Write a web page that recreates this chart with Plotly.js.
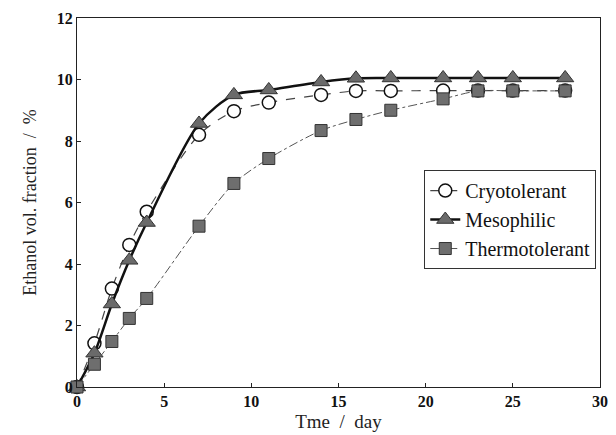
<!DOCTYPE html>
<html>
<head>
<meta charset="utf-8">
<script src="https://cdn.plot.ly/plotly-3.0.1.min.js"></script>
<style>html,body{margin:0;padding:0;background:#fff;}#chart{width:616px;height:435px;}</style>
</head>
<body>
<div id="chart"></div>
<script>
const days = [0, 1, 2, 3, 4, 7, 9, 11, 14, 16, 18, 21, 23, 25, 28];
const cryotolerant = [0, 1.42, 3.2, 4.62, 5.7, 8.2, 8.97, 9.25, 9.5, 9.63, 9.63, 9.64, 9.64, 9.64, 9.64];
const mesophilic = [0, 1.1, 2.7, 4.12, 5.35, 8.57, 9.5, 9.66, 9.92, 10.04, 10.05, 10.05, 10.05, 10.05, 10.05];
const thermotolerant = [0, 0.74, 1.48, 2.23, 2.88, 5.23, 6.62, 7.43, 8.34, 8.7, 9.0, 9.37, 9.63, 9.63, 9.63];
const seriesNames = ["Cryotolerant", "Mesophilic", "Thermotolerant"];
const xTicks = [0, 5, 10, 15, 20, 25, 30];
const yTicks = [0, 2, 4, 6, 8, 10, 12];

const serif = "Liberation Serif";

const traces = [
  {
    x: days, y: cryotolerant, name: seriesNames[0], mode: "lines+markers",
    line: {color: "#444", width: 1.2, dash: "dash", shape: "spline", smoothing: 0.8},
    marker: {symbol: "circle", size: 13, color: "#fff", line: {color: "#111", width: 1.5}},
    cliponaxis: false
  },
  {
    x: days, y: mesophilic, name: seriesNames[1], mode: "lines+markers",
    line: {color: "#111", width: 2.5, shape: "spline", smoothing: 0.8},
    marker: {symbol: "triangle-up", size: 15, color: "#6a6a6a", line: {color: "#333", width: 1}},
    cliponaxis: false
  },
  {
    x: days, y: thermotolerant, name: seriesNames[2], mode: "lines+markers",
    line: {color: "#555", width: 1, dash: "dashdot", shape: "spline", smoothing: 0.8},
    marker: {symbol: "square", size: 12, color: "#6e6e6e", line: {color: "#333", width: 1}},
    cliponaxis: false
  }
];

const layout = {
  width: 616, height: 435,
  margin: {l: 77, r: 16, t: 18, b: 48},
  paper_bgcolor: "#fff", plot_bgcolor: "#fff",
  showlegend: true,
  legend: {
    x: 0.664, y: 0.588, xanchor: "left", yanchor: "top",
    bordercolor: "#333", borderwidth: 1, bgcolor: "#fff",
    font: {family: serif, size: 20, color: "#111"},
    itemwidth: 30, tracegroupgap: 0
  },
  xaxis: {
    range: [0, 30], tickvals: xTicks, ticktext: xTicks.map(String),
    showgrid: false, zeroline: false, showline: true, mirror: true,
    linecolor: "#222", linewidth: 1, ticks: "inside", ticklen: 4, tickcolor: "#222",
    tickfont: {family: serif, size: 16, color: "#111", weight: "bold"},
    title: {text: "Tme  /  day", font: {family: serif, size: 19, color: "#222"}, standoff: 5}
  },
  yaxis: {
    range: [0, 12], tickvals: yTicks, ticktext: yTicks.map(String),
    showgrid: false, zeroline: false, showline: true, mirror: true,
    linecolor: "#222", linewidth: 1, ticks: "inside", ticklen: 4, tickcolor: "#222",
    tickfont: {family: serif, size: 16, color: "#111", weight: "bold"},
    title: {text: "Ethanol vol. fraction  /  %", font: {family: serif, size: 18, color: "#222"}, standoff: 15}
  }
};

Plotly.newPlot("chart", traces, layout, {displayModeBar: false, staticPlot: true});
</script>
</body>
</html>
